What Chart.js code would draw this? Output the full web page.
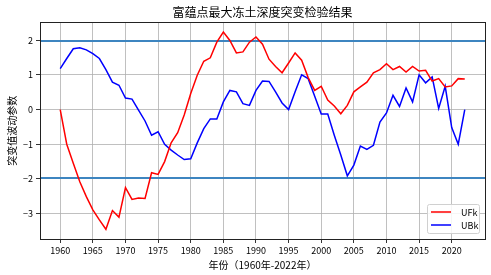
<!DOCTYPE html>
<html>
<head>
<meta charset="utf-8">
<script src="https://cdn.jsdelivr.net/npm/chart.js@4"></script>
<style>
  html, body { margin: 0; padding: 0; background: #fff; }
</style>
</head>
<body>
<canvas id="myChart" width="491" height="275"></canvas>
<script>
// years 1960 - 2022
var years = [
  1960, 1961, 1962, 1963, 1964, 1965, 1966, 1967, 1968, 1969,
  1970, 1971, 1972, 1973, 1974, 1975, 1976, 1977, 1978, 1979,
  1980, 1981, 1982, 1983, 1984, 1985, 1986, 1987, 1988, 1989,
  1990, 1991, 1992, 1993, 1994, 1995, 1996, 1997, 1998, 1999,
  2000, 2001, 2002, 2003, 2004, 2005, 2006, 2007, 2008, 2009,
  2010, 2011, 2012, 2013, 2014, 2015, 2016, 2017, 2018, 2019,
  2020, 2021, 2022
];

var ufk = [
  0, -1.0, -1.55, -2.08, -2.51, -2.89, -3.18, -3.45, -2.91, -3.1,
  -2.25, -2.59, -2.55, -2.56, -1.82, -1.87, -1.5, -0.96, -0.67, -0.16,
  0.46, 0.99, 1.39, 1.49, 1.94, 2.23, 1.99, 1.63, 1.66, 1.94,
  2.09, 1.88, 1.45, 1.24, 1.06, 1.34, 1.63, 1.42, 0.92, 0.55,
  0.67, 0.27, 0.1, -0.12, 0.12, 0.51, 0.65, 0.79, 1.06, 1.15,
  1.32, 1.15, 1.24, 1.08, 1.24, 1.11, 1.13, 0.82, 0.89, 0.65,
  0.68, 0.89, 0.88
];

var ubk = [
  1.18, 1.47, 1.75, 1.78, 1.72, 1.61, 1.47, 1.15, 0.79, 0.7,
  0.33, 0.3, -0.02, -0.33, -0.74, -0.64, -1.0, -1.17, -1.31, -1.44,
  -1.42, -0.96, -0.55, -0.27, -0.27, 0.22, 0.55, 0.51, 0.17, 0.12,
  0.55, 0.82, 0.81, 0.51, 0.19, 0.0, 0.51, 1.0, 0.89, 0.38,
  -0.13, -0.13, -0.74, -1.31, -1.91, -1.6, -1.05, -1.15, -1.03, -0.36,
  -0.1, 0.41, 0.09, 0.62, 0.22, 1.0, 0.77, 0.94, 0.03, 0.67,
  -0.52, -1.0, 0.0
];

// critical value (95%)
var critLevels = [1.96, -1.96];

var xTicks = [1960, 1965, 1970, 1975, 1980, 1985, 1990, 1995, 2000, 2005, 2010, 2015, 2020];
var yTicks = [-3, -2, -1, 0, 1, 2];

var cjk = "'Noto Sans CJK SC', 'Noto Sans', sans-serif";

function toPoints(vals) {
  return years.map(function (y, i) { return { x: y, y: vals[i] }; });
}

// border box, critical lines, legend inside the plot
var extras = {
  id: "extras",
  beforeDatasetsDraw: function (chart) {
    var c = chart.ctx, a = chart.chartArea, ys = chart.scales.y;
    c.save();
    c.strokeStyle = "#3d85c0";
    c.lineWidth = 2;
    critLevels.forEach(function (v) {
      var py = Math.round(ys.getPixelForValue(v));
      c.beginPath();
      c.moveTo(a.left, py);
      c.lineTo(a.right, py);
      c.stroke();
    });
    c.restore();
  },
  afterDraw: function (chart) {
    var c = chart.ctx, a = chart.chartArea;
    c.save();
    c.strokeStyle = "#222";
    c.lineWidth = 1;
    c.strokeRect(Math.round(a.left) + 0.5, Math.round(a.top) + 0.5,
      Math.round(a.right - a.left), Math.round(a.bottom - a.top));

    // legend
    var bw = 52, bh = 29;
    var bx = a.right - 6 - bw, by = a.bottom - 6 - bh;
    c.fillStyle = "rgba(255,255,255,0.85)";
    c.strokeStyle = "#d0d0d0";
    c.beginPath();
    c.roundRect(bx + 0.5, by + 0.5, bw, bh, 2);
    c.fill();
    c.stroke();
    c.font = "9px " + cjk;
    c.textBaseline = "middle";
    chart.data.datasets.forEach(function (ds, i) {
      var ly = by + 8 + i * 13;
      c.strokeStyle = ds.borderColor;
      c.lineWidth = 1.5;
      c.beginPath();
      c.moveTo(bx + 4, ly);
      c.lineTo(bx + 24, ly);
      c.stroke();
      c.fillStyle = "#000";
      c.fillText(ds.label, bx + 34, ly + 1);
    });
    c.restore();
  }
};

const ctx = document.getElementById("myChart").getContext("2d");
const myChart = new Chart(ctx, {
  type: "line",
  data: {
    datasets: [
      {
        label: "UFk",
        data: toPoints(ufk),
        borderColor: "#ff0000",
        borderWidth: 1.5,
        pointRadius: 0,
        tension: 0,
      },
      {
        label: "UBk",
        data: toPoints(ubk),
        borderColor: "#0000ff",
        borderWidth: 1.5,
        pointRadius: 0,
        tension: 0,
      },
    ],
  },
  options: {
    responsive: false,
    animation: false,
    layout: { padding: { left: 0, right: 6, top: 0, bottom: 0 } },
    scales: {
      x: {
        type: "linear",
        min: 1956.9,
        max: 2025.1,
        afterBuildTicks: function (axis) {
          axis.ticks = xTicks.map(function (v) { return { value: v }; });
        },
        afterFit: function (scale) { scale.height = 36; },
        grid: { color: "#b0b0b0", lineWidth: 0.8, tickColor: "#000", tickLength: 4 },
        border: { display: false },
        ticks: {
          color: "#000",
          padding: 2,
          maxRotation: 0,
          font: { family: cjk, size: 9 },
          callback: function (v) { return String(v); },
        },
        title: {
          display: true,
          text: "年份（1960年-2022年）",
          color: "#000",
          font: { family: cjk, size: 10 },
          padding: { top: 0, bottom: 4 },
        },
      },
      y: {
        min: -3.73,
        max: 2.51,
        afterBuildTicks: function (axis) {
          axis.ticks = yTicks.map(function (v) { return { value: v }; });
        },
        afterFit: function (scale) { scale.width = 40; },
        grid: { color: "#b0b0b0", lineWidth: 0.8, tickColor: "#000", tickLength: 4 },
        border: { display: false },
        ticks: {
          color: "#000",
          padding: 3,
          font: { family: cjk, size: 9 },
          callback: function (v) { return v < 0 ? "\u2212" + Math.abs(v) : String(v); },
        },
        title: {
          display: true,
          text: "突变值波动参数",
          color: "#000",
          font: { family: cjk, size: 10 },
          padding: { top: 6, bottom: 0 },
        },
      },
    },
    plugins: {
      legend: { display: false },
      tooltip: { enabled: false },
      title: {
        display: true,
        fullSize: false,
        text: "富蕴点最大冻土深度突变检验结果",
        color: "#000",
        font: { family: cjk, size: 12, weight: "normal", lineHeight: 1.2 },
        padding: { top: 5, bottom: 3 },
      },
    },
  },
  plugins: [extras],
});
</script>
</body>
</html>
